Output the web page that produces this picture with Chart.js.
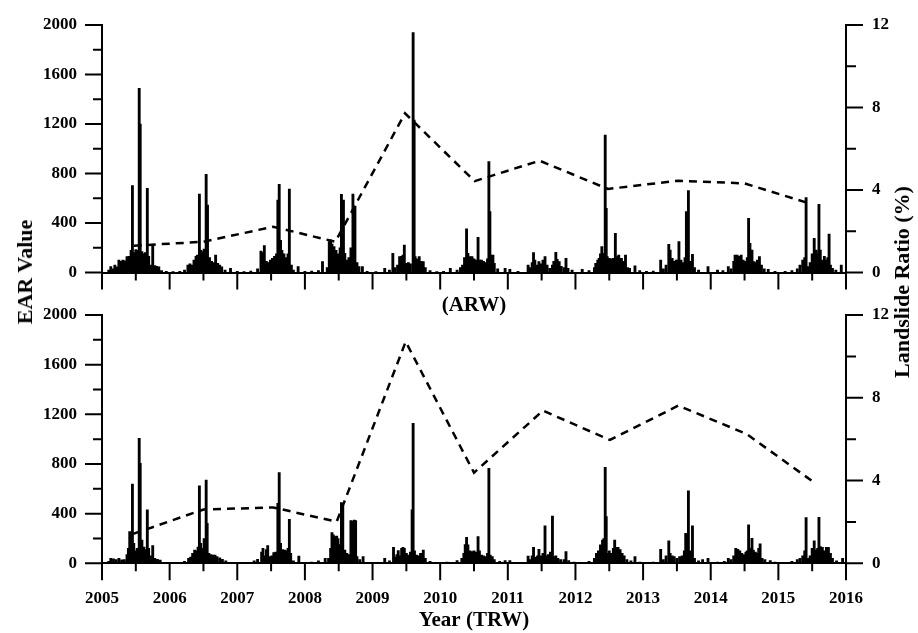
<!DOCTYPE html>
<html><head><meta charset="utf-8">
<script src="https://cdn.jsdelivr.net/npm/chart.js@4.4.0/dist/chart.umd.min.js"></script>
<style>
html,body{margin:0;padding:0;background:#fff;}
#wrap{position:relative;width:918px;height:633px;overflow:hidden;background:#fff;}
canvas{position:absolute;left:0;}
.yt{position:absolute;font-family:"Liberation Serif",serif;font-weight:bold;font-size:22px;line-height:1;white-space:nowrap;color:#000;transform:translate(-50%,-50%) rotate(-90deg);}
</style></head>
<body>
<div id="wrap">
<canvas id="cTop" width="918" height="320" style="top:0"></canvas>
<canvas id="cBot" width="918" height="338" style="top:295px"></canvas>
<div class="yt" style="left:25px;top:272px">EAR Value</div>
<div class="yt" style="left:902px;top:282px">Landslide Ratio (%)</div>
</div>
<script>
// ---------- DATA ----------
const xTickYears = [2005,2006,2007,2008,2009,2010,2011,2012,2013,2014,2015,2016];

// ARW panel: EAR bars (decimal year / value)
const arwYears = [
 2005.10,2005.13,2005.16,2005.19,2005.22,2005.25,2005.28,2005.31,2005.34,2005.37,2005.40,2005.43,2005.45,2005.47,2005.50,2005.53,2005.55,2005.565,2005.59,2005.62,2005.64,2005.67,2005.69,2005.72,2005.75,2005.78,2005.81,2005.84,2005.88,2005.95,2006.05,2006.15,2006.22,
 2006.27,2006.30,2006.33,2006.36,2006.39,2006.41,2006.44,2006.46,2006.49,2006.51,2006.54,2006.56,2006.59,2006.62,2006.65,2006.68,2006.71,2006.74,2006.77,2006.82,2006.90,2007.00,2007.10,2007.20,2007.30,
 2007.35,2007.37,2007.40,2007.43,2007.46,2007.49,2007.52,2007.55,2007.58,2007.60,2007.62,2007.64,2007.66,2007.69,2007.72,2007.75,2007.77,2007.80,2007.83,2007.90,2008.00,2008.10,2008.20,2008.26,
 2008.33,2008.36,2008.38,2008.40,2008.43,2008.46,2008.49,2008.52,2008.54,2008.57,2008.59,2008.62,2008.65,2008.68,2008.71,2008.74,2008.77,2008.80,2008.85,2008.92,2009.05,2009.18,
 2009.25,2009.30,2009.33,2009.37,2009.40,2009.43,2009.45,2009.47,2009.50,2009.53,2009.56,2009.60,2009.615,2009.63,2009.66,2009.69,2009.72,2009.75,2009.78,2009.85,2009.95,2010.05,2010.15,2010.25,
 2010.30,2010.33,2010.36,2010.39,2010.41,2010.44,2010.47,2010.50,2010.53,2010.56,2010.58,2010.61,2010.64,2010.67,2010.70,2010.72,2010.735,2010.75,2010.78,2010.80,2010.85,2010.96,2011.03,2011.15,
 2011.30,2011.33,2011.36,2011.38,2011.40,2011.43,2011.46,2011.49,2011.52,2011.55,2011.58,2011.62,2011.66,2011.68,2011.71,2011.73,2011.76,2011.79,2011.83,2011.86,2011.89,2011.95,2012.10,2012.20,
 2012.28,2012.30,2012.33,2012.35,2012.37,2012.39,2012.41,2012.44,2012.455,2012.47,2012.50,2012.53,2012.56,2012.59,2012.61,2012.64,2012.66,2012.68,2012.71,2012.74,2012.77,2012.80,2012.88,2012.95,2013.05,2013.15,
 2013.26,2013.30,2013.34,2013.38,2013.40,2013.43,2013.46,2013.49,2013.51,2013.53,2013.56,2013.59,2013.62,2013.64,2013.67,2013.70,2013.73,2013.76,2013.82,2013.96,2014.10,2014.18,
 2014.26,2014.30,2014.34,2014.36,2014.39,2014.42,2014.45,2014.48,2014.51,2014.54,2014.56,2014.58,2014.61,2014.64,2014.67,2014.69,2014.72,2014.75,2014.79,2014.85,2014.95,2015.10,2015.20,
 2015.28,2015.32,2015.36,2015.39,2015.41,2015.44,2015.47,2015.50,2015.53,2015.56,2015.58,2015.60,2015.62,2015.65,2015.68,2015.70,2015.73,2015.75,2015.77,2015.80,2015.85,2015.93
];
const arwEAR = [
 20,47,30,60,45,100,90,100,95,128,130,180,702,160,185,180,1488,1200,170,150,160,680,130,60,228,55,50,45,15,10,8,10,20,
 60,70,60,100,130,140,634,180,170,190,793,545,120,90,80,140,75,60,45,20,33,10,8,12,30,
 174,160,217,90,80,100,115,130,150,585,712,260,180,150,120,150,675,60,20,47,10,12,15,88,
 40,250,263,230,210,180,150,200,632,586,155,100,120,200,634,537,80,47,47,10,8,34,
 20,155,40,60,128,130,140,222,74,80,70,1938,1232,128,110,128,90,88,40,15,8,10,34,20,
 40,60,120,352,155,128,128,110,100,284,100,100,90,80,110,896,492,141,141,74,30,34,26,10,
 60,40,80,160,100,60,88,70,100,128,60,34,60,90,163,106,88,50,40,115,34,20,26,15,
 40,74,100,115,150,209,155,1111,519,128,115,110,115,317,128,141,100,115,90,141,40,34,53,15,10,12,
 100,30,60,228,182,115,90,100,100,249,100,80,120,492,661,90,147,40,20,47,20,15,
 47,30,90,141,141,130,141,100,90,120,438,236,182,88,80,100,128,60,30,26,10,10,15,
 30,60,100,120,605,47,80,150,276,182,150,551,182,100,130,100,120,311,60,34,20,60
];
// ARW panel: landslide ratio (%)
const arwRatioYears = [2005.47,2006.50,2007.53,2008.45,2009.48,2010.51,2011.47,2012.48,2013.52,2014.50,2015.46];
const arwRatio      = [1.30,1.49,2.22,1.49,7.72,4.43,5.42,4.05,4.45,4.32,3.35];

// TRW panel: EAR bars
const trwYears = [
 2005.10,2005.13,2005.17,2005.21,2005.25,2005.29,2005.33,2005.37,2005.39,2005.41,2005.43,2005.45,2005.47,2005.50,2005.52,2005.55,2005.565,2005.59,2005.62,2005.65,2005.67,2005.69,2005.72,2005.75,2005.78,2005.82,2005.86,2005.95,2006.05,2006.15,2006.22,
 2006.28,2006.31,2006.34,2006.37,2006.40,2006.42,2006.44,2006.46,2006.49,2006.51,2006.54,2006.555,2006.58,2006.61,2006.64,2006.67,2006.70,2006.74,2006.78,2006.83,2006.92,2007.05,2007.15,2007.25,2007.30,
 2007.36,2007.38,2007.41,2007.43,2007.45,2007.48,2007.51,2007.54,2007.57,2007.60,2007.62,2007.64,2007.67,2007.70,2007.73,2007.75,2007.77,2007.79,2007.83,2007.91,2008.00,2008.10,2008.20,2008.30,
 2008.35,2008.38,2008.40,2008.42,2008.44,2008.47,2008.49,2008.52,2008.54,2008.56,2008.59,2008.62,2008.65,2008.68,2008.70,2008.73,2008.75,2008.77,2008.81,2008.86,2008.92,2009.05,2009.18,
 2009.25,2009.31,2009.33,2009.36,2009.38,2009.40,2009.43,2009.45,2009.47,2009.50,2009.53,2009.56,2009.585,2009.60,2009.62,2009.65,2009.68,2009.71,2009.75,2009.78,2009.85,2009.95,2010.10,2010.25,
 2010.32,2010.35,2010.37,2010.39,2010.41,2010.44,2010.47,2010.50,2010.53,2010.56,2010.58,2010.61,2010.64,2010.67,2010.70,2010.72,2010.74,2010.77,2010.80,2010.88,2010.96,2011.03,2011.15,
 2011.30,2011.33,2011.36,2011.38,2011.41,2011.44,2011.46,2011.49,2011.52,2011.55,2011.57,2011.60,2011.63,2011.66,2011.68,2011.71,2011.74,2011.78,2011.83,2011.86,2011.90,2011.98,2012.10,2012.20,
 2012.28,2012.31,2012.34,2012.37,2012.40,2012.42,2012.44,2012.455,2012.47,2012.50,2012.53,2012.56,2012.58,2012.61,2012.63,2012.66,2012.69,2012.72,2012.76,2012.82,2012.88,2012.95,2013.05,2013.15,
 2013.26,2013.30,2013.34,2013.38,2013.40,2013.43,2013.46,2013.50,2013.54,2013.58,2013.61,2013.63,2013.65,2013.67,2013.70,2013.73,2013.76,2013.82,2013.88,2013.96,2014.10,2014.20,
 2014.26,2014.30,2014.34,2014.37,2014.40,2014.43,2014.46,2014.49,2014.52,2014.54,2014.56,2014.58,2014.61,2014.63,2014.66,2014.69,2014.71,2014.73,2014.76,2014.80,2014.88,2014.95,2015.10,2015.20,
 2015.28,2015.32,2015.36,2015.39,2015.41,2015.44,2015.47,2015.50,2015.53,2015.56,2015.58,2015.60,2015.62,2015.65,2015.68,2015.71,2015.74,2015.77,2015.80,2015.86,2015.95
];
const trwEAR = [
 15,40,35,30,40,27,30,70,120,255,200,639,161,100,120,1007,805,188,130,110,430,121,60,142,40,32,25,8,8,5,15,
 40,50,80,107,100,130,623,161,120,200,671,322,80,70,67,67,54,45,32,20,8,5,8,20,32,
 90,121,60,110,142,54,60,86,90,483,730,161,110,107,100,120,354,80,20,59,8,10,20,40,
 40,120,247,230,215,220,200,150,489,462,107,80,70,344,340,349,345,54,30,54,8,8,40,
 20,129,50,70,102,60,121,129,120,80,67,90,430,1128,100,67,60,80,107,40,15,8,10,21,
 40,80,150,209,148,100,94,100,90,215,100,67,60,54,80,765,67,54,30,15,21,21,8,
 59,30,60,129,50,60,113,60,80,301,60,70,90,381,54,60,40,30,30,94,21,10,8,15,
 40,80,100,148,188,200,773,376,80,100,80,120,188,129,129,110,80,60,30,20,54,10,8,10,
 113,30,60,180,80,60,54,40,54,60,100,242,120,583,100,301,40,20,30,40,10,15,
 40,30,60,121,113,100,80,70,90,100,309,120,201,107,90,80,120,156,40,30,21,10,8,15,
 30,40,60,100,368,40,60,120,180,107,120,371,134,129,100,129,129,80,40,20,40
];
// TRW panel: landslide ratio (%)
const trwRatioYears = [2005.46,2006.50,2007.53,2008.47,2009.49,2010.50,2011.52,2012.51,2013.52,2014.53,2015.51];
const trwRatio      = [1.42,2.60,2.70,2.01,10.71,4.38,7.38,5.96,7.62,6.25,3.95];

// ---------- CHART ----------
const SERIF = "'Liberation Serif', 'Times New Roman', serif";
const tickFont = {family: SERIF, weight: 'bold', size: 17};
const titleFont = {family: SERIF, weight: 'bold', size: 21};

const tickMarks = {
  id: 'tickMarks',
  afterDraw(chart) {
    const {ctx, chartArea: a} = chart;
    const sx = chart.scales.x, sy = chart.scales.y, sr = chart.scales.y1;
    ctx.save();
    ctx.strokeStyle = '#000';
    ctx.lineWidth = 2;
    ctx.beginPath();
    for (let v = sx.min, k = 0; v <= sx.max + 1e-9; v += 0.5, k++) {
      const p = sx.getPixelForValue(v);
      const len = (k % 2 === 0) ? 17 : 8;
      ctx.moveTo(p, a.bottom); ctx.lineTo(p, a.bottom + len);
    }
    for (let v = sy.min, k = 0; v <= sy.max + 1e-9; v += 200, k++) {
      const p = sy.getPixelForValue(v);
      const len = (k % 2 === 0) ? 17 : 9;
      ctx.moveTo(a.left - len, p); ctx.lineTo(a.left, p);
    }
    for (let v = sr.min, k = 0; v <= sr.max + 1e-9; v += 2, k++) {
      const p = sr.getPixelForValue(v);
      const len = (k % 2 === 0) ? 17 : 10;
      ctx.moveTo(a.right, p); ctx.lineTo(a.right + len, p);
    }
    ctx.stroke();
    ctx.restore();
  }
};

// invisible grid (tick marks drawn by plugin) so labels sit beyond the tick length
const hiddenGrid = {display: true, drawOnChartArea: false, drawTicks: true, tickLength: 17,
                    color: 'rgba(0,0,0,0)', tickColor: 'rgba(0,0,0,0)'};

function makePanel(id, years, ear, rYears, ratio, cfg) {
  return new Chart(document.getElementById(id), {
    type: 'bar',
    data: {
      datasets: [
        { type: 'line', label: 'Landslide Ratio', yAxisID: 'y1',
          data: rYears.map((x, i) => ({x: x, y: ratio[i]})),
          borderColor: '#000', borderWidth: 2.5, borderDash: [8, 6],
          pointRadius: 0, tension: 0, fill: false, order: 0 },
        { type: 'bar', label: 'EAR', yAxisID: 'y',
          data: years.map((x, i) => ({x: x, y: ear[i]})),
          backgroundColor: '#000', borderWidth: 0, barThickness: 2.2, order: 1 }
      ]
    },
    options: {
      responsive: false, animation: false, events: [],
      layout: {padding: {top: cfg.padTop, left: 0, right: 0, bottom: 0}},
      plugins: {legend: {display: false}, tooltip: {enabled: false}},
      scales: {
        x: {
          type: 'linear', min: 2005, max: 2016, offset: false,
          grid: hiddenGrid,
          border: {display: true, color: '#000', width: 2},
          afterBuildTicks: s => { s.ticks = xTickYears.map(v => ({value: v})); },
          ticks: {display: cfg.showX, autoSkip: false, maxRotation: 0, padding: 8.5,
                  color: '#000', font: tickFont, callback: v => String(v)},
          title: {display: true, text: cfg.xTitle, color: '#000', font: titleFont,
                  padding: {top: 0, bottom: cfg.titlePad}},
          afterFit: s => { s.height = cfg.xH; }
        },
        y: {
          position: 'left', min: 0, max: 2000,
          grid: hiddenGrid,
          border: {display: true, color: '#000', width: 2},
          ticks: {stepSize: 400, padding: 8, color: '#000', font: tickFont, callback: v => String(v)},
          afterFit: s => { s.width = 102; }
        },
        y1: {
          position: 'right', min: 0, max: 12,
          grid: hiddenGrid,
          border: {display: true, color: '#000', width: 2},
          ticks: {stepSize: 4, padding: 9, color: '#000', font: tickFont, callback: v => String(v)},
          afterFit: s => { s.width = 72; }
        }
      }
    },
    plugins: [tickMarks]
  });
}

makePanel('cTop', arwYears, arwEAR, arwRatioYears, arwRatio,
  {padTop: 25, xH: 47.5, showX: false, xTitle: '(ARW)', titlePad: 1.4});
makePanel('cBot', trwYears, trwEAR, trwRatioYears, trwRatio,
  {padTop: 20, xH: 69.7, showX: true, xTitle: 'Year (TRW)', titlePad: 0});
</script>
</body></html>
